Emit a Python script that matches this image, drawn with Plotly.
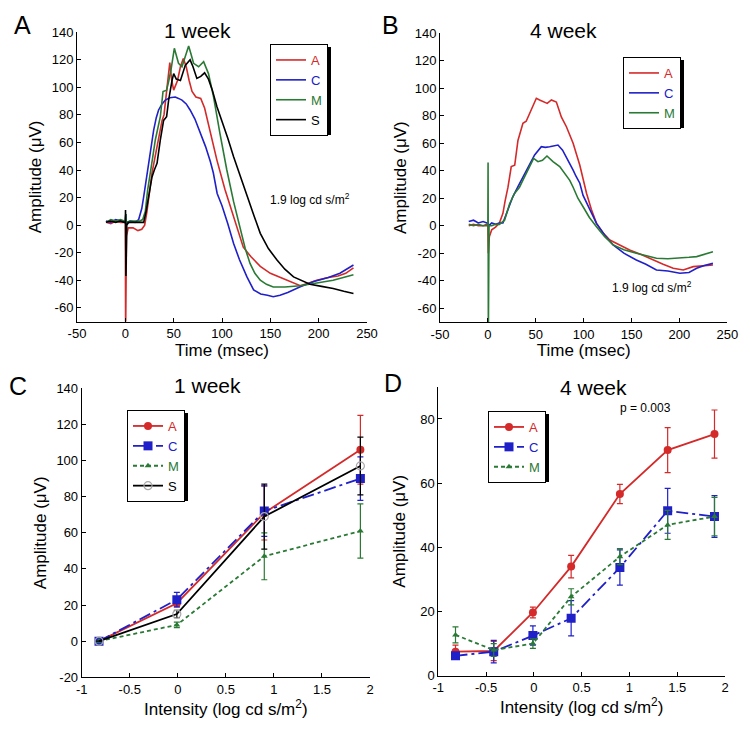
import plotly.graph_objects as go

RED = "#d42a2a"
BLUE = "#2020c8"
GREEN = "#2a7a35"
BLACK = "#000000"
GRAY = "#a8a8a8"

# ---------------- Panel A (1 week waveforms) ----------------
a1_red_t = [-20, -15, -10, -5, -1, 0, 0.3, 1.2, 3, 8, 13, 17, 20, 22.4, 27.6, 32.8, 38, 40, 43, 46, 48, 50, 54, 57,
            60, 63, 66, 69, 73, 78, 82, 87, 94.8, 103, 112, 122, 130, 139.6, 150, 160, 167, 175, 181, 190, 198, 210,
            220, 228, 236]
a1_red_v = [2, 1, 3, 2, 2, 2, -80, -8, -2, -2, -4, -3, 0, 10, 38, 57, 76, 80, 100, 118, 105, 98, 105, 115,
            121, 115, 105, 97, 93, 92, 85, 70, 47, 26, 6, -16, -23, -30, -35, -38, -40, -42, -44, -42, -40, -38,
            -37, -35, -31]

a1_blue_t = [-20, -15, -10, -5, -1, 0, 0.5, 1, 5, 10, 13.8, 17, 19, 21.5, 24, 26.5, 29.3, 32, 34.4, 38, 41.4, 46,
             51.7, 55, 58.6, 63, 67, 72, 77.6, 83, 88, 91, 95, 100, 106, 112, 118, 125.8, 132.7, 140, 147, 153, 160,
             168, 181, 195, 210, 222, 236]
a1_blue_v = [3, 2, 4, 3, 2, 2, 8, 0, 3, 2, 4, 12, 20.6, 33, 44.8, 58, 69, 78, 83.6, 88, 90.8, 92.5,
             93, 92, 90.8, 88, 83.6, 77, 67, 57, 46, 38, 23, 14, 1, -13.3, -25, -37.6, -47, -50, -51, -52, -51,
             -49, -44.8, -41, -38, -35, -29]

a1_green_t = [-20, -15, -10, -5, -1, 0, 0.5, 1, 5, 10, 15, 18, 20.7, 23, 25.9, 28.5, 31, 33.5, 36.2, 39, 42.7, 45,
              47.2, 50.7, 53, 55, 58.6, 62, 65.5, 68, 70.6, 75.8, 81, 86, 91.3, 98, 105, 112, 119, 124, 129, 134,
              139.6, 146, 153, 165, 181, 200, 215, 236]
a1_green_v = [2, 4, 3, 4, 3, 3, 8, 2, 3, 3, 3, 4, 10, 25, 40, 50, 61.8, 70, 78.7, 97, 98, 105,
              112.6, 128.4, 122, 117.5, 115, 122, 130, 124, 117.5, 115, 118.7, 110, 93, 66, 40, 17, -3.6, -17, -27.8,
              -35, -40, -43, -45, -45, -44, -42, -40, -36]

a1_black_t = [-20, -15, -10, -5, -1, 0, 0.2, 0.6, 1.5, 3, 8, 14, 19, 21.5, 24, 27.6, 30, 32.8, 36.2, 39.6, 42.7,
              44.8, 48.3, 50, 52.7, 57, 62, 67, 70, 74, 78, 82, 86, 90, 94.8, 100, 106, 112, 119, 125.8, 133,
              139.6, 148, 156.9, 165, 174, 182, 191, 203, 215, 226, 236]
a1_black_v = [2, 3, 2, 3, 2, 2, 11, -37, 0, 2, 2, 2, 2, 10, 20.6, 35, 40, 44.8, 61.8, 76, 78.7,
              90.8, 105, 110, 106, 105, 116, 120, 115, 106.5, 108, 110.6, 106, 98, 86, 76, 63, 49.6, 35, 20.6, 7,
              -6, -17, -25.4, -32, -37.6, -40, -43, -44.5, -46, -48, -49.6]

# ---------------- Panel B (4 week waveforms) ----------------
b4_red_t = [-20, -15, -10, -5, -1, 0, 0.5, 1.5, 4, 8, 12, 15.7, 18, 21, 24.4, 28, 31.4, 36.6, 40, 45.4, 50.6, 54,
            59.3, 62, 66.3, 71.5, 76.8, 82, 89, 96, 103, 108, 113.4, 120, 127.3, 138, 148, 160, 172.6, 183, 193.5,
            204, 214.4, 225, 235]
b4_red_v = [0, 1, 0, 0, 1, 0, -20, -8, -3, -1, 2, 9, 18, 28, 43, 44, 62, 74.5, 76, 84, 92.7, 91.5,
            90, 89, 91.5, 90, 79, 72, 60, 44, 23.6, 12, 1.7, -5, -10.4, -14, -17.7, -21, -25, -28, -31,
            -32.2, -29.8, -29, -28.6]

b4_blue_t = [-20, -15, -10, -5, -1, 0, 1, 4, 8, 12, 15.7, 21, 26, 31.4, 38.4, 43.6, 48.8, 55.8, 60, 64.5, 69, 73.2,
             78, 82, 85.5, 89, 92, 96, 99.4, 106, 113.4, 122, 130.8, 142, 155, 165, 176, 188, 200.5, 210, 218, 226,
             235]
b4_blue_v = [3, 4, 2, 3, 2, 2, 0, 2, 1, 2, 2, 11.4, 21, 28.4, 38, 45.4, 51.5, 57.5, 57, 57.5, 58, 58.7,
             55, 50, 45, 40.5, 36, 30.9, 22, 12, 1.7, -7, -14, -20, -25, -28, -32.2, -33, -34.6, -34, -31, -29,
             -27.4]

b4_green_t = [-20, -15, -10, -5, -1, 0, 0.2, 0.5, 1.2, 4, 8, 12, 17.4, 22.7, 28, 33, 38.4, 43.6, 47.8, 52.3, 57,
              61.7, 68, 75, 82, 85.5, 89, 94, 99.4, 106, 113.4, 122, 130.8, 142, 155, 165, 176, 188, 200.5, 210,
              218, 226, 235]
b4_green_v = [1, 0, 1, 0, 0, 0, 46, -80, 0, 0, 1, 1, 4, 16, 23.6, 28, 35.7, 43, 49, 46.6, 47.6,
              50.7, 46.6, 43, 35.7, 33, 28, 20, 13.8, 6, -0.7, -8, -14, -17.5, -20, -22, -23.7, -24, -23.7, -23,
              -22.5, -21, -19]

# ---------------- Panel C (1 week intensity-response) ----------------
c_int = [-0.82, -0.01, 0.9, 1.9]
c_A = [0, 21, 71, 106]
c_A_err = [0, 2, 15, 19]
c_C = [0, 23, 72, 90]
c_C_err = [0, 4, 14, 12]
c_M = [0, 9, 47, 61]
c_M_err = [0, 1.5, 13, 15]
c_S = [0, 15, 69, 97]
c_S_err = [0, 2, 18, 16]

# ---------------- Panel D (4 week intensity-response) ----------------
d_int = [-0.82, -0.42, -0.01, 0.39, 0.9, 1.4, 1.89]
d_A = [7.5, 7.7, 19.7, 34, 56.6, 70.3, 75.3]
d_A_err = [2, 3, 1.7, 3.5, 3, 7, 7.5]
d_C = [6.2, 7.5, 12.5, 17.9, 33.7, 51.4, 49.6]
d_C_err = [1, 3.5, 3, 5.5, 5.5, 7, 6.5]
d_M = [12.7, 8, 10, 24.6, 37.1, 47, 49.6]
d_M_err = [2.5, 2, 1.5, 2.5, 2.5, 4.5, 6]

# tick labels (MATLAB style, plain hyphen minus)
time_ticks = [-50, 0, 50, 100, 150, 200, 250]
amp_ticks = [-60, -40, -20, 0, 20, 40, 60, 80, 100, 120, 140]
ampc_ticks = [-20, 0, 20, 40, 60, 80, 100, 120, 140]
ampd_ticks = [0, 20, 40, 60, 80]
int_ticks = [-1, -0.5, 0, 0.5, 1, 1.5, 2]
int_text = ["-1", "-0.5", "0", "0.5", "1", "1.5", "2"]

FONT = "Liberation Sans, Arial, sans-serif"

# The page body has an 8px margin, so the figure is drawn 8px in from the window's edge.
OFF = 8
W, H = 750 - OFF, 733 - OFF


def px(x):
    return (x - OFF) / W


def py(y):
    return 1 - (y - OFF) / H


def lname(txt, col):
    return f"<span style='color:{col}'>{txt}</span>"


def labels(vals):
    return [str(v) for v in vals]


fig = go.Figure()

for t, v, col, nm in [(a1_red_t, a1_red_v, RED, "A"), (a1_blue_t, a1_blue_v, BLUE, "C"),
                      (a1_green_t, a1_green_v, GREEN, "M"), (a1_black_t, a1_black_v, BLACK, "S")]:
    fig.add_trace(go.Scatter(x=t, y=v, mode="lines", line=dict(color=col, width=1.6),
                             name=lname(nm, col), xaxis="x", yaxis="y", legend="legend"))

for t, v, col, nm in [(b4_red_t, b4_red_v, RED, "A"), (b4_blue_t, b4_blue_v, BLUE, "C"),
                      (b4_green_t, b4_green_v, GREEN, "M")]:
    fig.add_trace(go.Scatter(x=t, y=v, mode="lines", line=dict(color=col, width=1.6),
                             name=lname(nm, col), xaxis="x2", yaxis="y2", legend="legend2"))

c_specs = [
    (c_A, c_A_err, RED, "A", "solid", dict(symbol="circle", size=8, color=RED)),
    (c_C, c_C_err, BLUE, "C", "12px,4px,3px,4px", dict(symbol="square", size=9, color=BLUE)),
    (c_M, c_M_err, GREEN, "M", "4px,3px", dict(symbol="triangle-up", size=6, color=GREEN)),
    (c_S, c_S_err, BLACK, "S", "solid", dict(symbol="circle-open", size=8, color=GRAY, line=dict(width=1.2))),
]
for vals, errs, col, nm, dash, mk in c_specs:
    fig.add_trace(go.Scatter(x=c_int, y=vals, mode="lines+markers",
                             line=dict(color=col, width=1.8, dash=dash), marker=mk,
                             error_y=dict(type="data", array=errs, visible=True, color=col, thickness=1.2, width=3),
                             name=lname(nm, col), xaxis="x3", yaxis="y3", legend="legend3"))

d_specs = [
    (d_A, d_A_err, RED, "A", "solid", dict(symbol="circle", size=8, color=RED)),
    (d_C, d_C_err, BLUE, "C", "12px,4px,3px,4px", dict(symbol="square", size=9, color=BLUE)),
    (d_M, d_M_err, GREEN, "M", "4px,3px", dict(symbol="triangle-up", size=6, color=GREEN)),
]
for vals, errs, col, nm, dash, mk in d_specs:
    fig.add_trace(go.Scatter(x=d_int, y=vals, mode="lines+markers",
                             line=dict(color=col, width=1.8, dash=dash), marker=mk,
                             error_y=dict(type="data", array=errs, visible=True, color=col, thickness=1.2, width=3),
                             name=lname(nm, col), xaxis="x4", yaxis="y4", legend="legend4"))

axis_common = dict(showline=True, linecolor="black", linewidth=1, ticks="inside", ticklen=4, tickcolor="black",
                   showgrid=False, zeroline=False, mirror=False, automargin=False,
                   tickfont=dict(family=FONT, size=13, color="black"))
title_font = dict(family=FONT, size=17, color="black")
amp = "Amplitude (\u03bcV)"
inten = "Intensity (log cd s/m<sup>2</sup>)"

fig.update_layout(
    width=W, height=H, margin=dict(l=0, r=0, t=0, b=0),
    paper_bgcolor="white", plot_bgcolor="white",
    font=dict(family=FONT, color="black"),
    xaxis=dict(domain=[px(77), px(367)], range=[-50, 250], tickvals=time_ticks, ticktext=labels(time_ticks),
               title=dict(text="Time (msec)", font=title_font, standoff=2), anchor="y", **axis_common),
    yaxis=dict(domain=[py(321.5), py(32.3)], range=[-70, 140], tickvals=amp_ticks, ticktext=labels(amp_ticks),
               title=dict(text=amp, font=title_font, standoff=5), anchor="x", **axis_common),
    xaxis2=dict(domain=[px(440), px(727.3)], range=[-50, 250], tickvals=time_ticks, ticktext=labels(time_ticks),
                title=dict(text="Time (msec)", font=title_font, standoff=2), anchor="y2", **axis_common),
    yaxis2=dict(domain=[py(321.9), py(33.3)], range=[-70, 140], tickvals=amp_ticks, ticktext=labels(amp_ticks),
                title=dict(text=amp, font=title_font, standoff=3), anchor="x2", **axis_common),
    xaxis3=dict(domain=[px(81.7), px(370)], range=[-1, 2], tickvals=int_ticks, ticktext=int_text,
                title=dict(text=inten, font=title_font, standoff=4), anchor="y3", **axis_common),
    yaxis3=dict(domain=[py(677.3), py(388.3)], range=[-20, 140], tickvals=ampc_ticks, ticktext=labels(ampc_ticks),
                title=dict(text=amp, font=title_font, standoff=5), anchor="x3", **axis_common),
    xaxis4=dict(domain=[px(438.3), px(725)], range=[-1, 2], tickvals=int_ticks, ticktext=int_text,
                title=dict(text=inten, font=title_font, standoff=4), anchor="y4", **axis_common),
    yaxis4=dict(domain=[py(675.7), py(386.9)], range=[0, 90], tickvals=ampd_ticks, ticktext=labels(ampd_ticks),
                title=dict(text=amp, font=title_font, standoff=10), anchor="x4", **axis_common),
)

leg_common = dict(xanchor="left", yanchor="top", bordercolor="black", borderwidth=1, bgcolor="white",
                  font=dict(family=FONT, size=13), itemwidth=30, tracegroupgap=0)
# legend boxes: (left, top, width, height) in window pixels
leg_boxes = {"legend": (270, 44, 58, 88), "legend2": (623, 57, 58, 68),
             "legend3": (127, 410, 58, 88), "legend4": (488, 411, 58, 68)}
fig.update_layout(**{k: dict(x=px(l), y=py(t), **leg_common) for k, (l, t, w, h) in leg_boxes.items()})

# MATLAB-style drop shadows behind the legend boxes
shapes = []
for l, t, w, h in leg_boxes.values():
    shapes.append(dict(type="rect", xref="paper", yref="paper", layer="above",
                       x0=px(l + 3), x1=px(l + w + 3), y0=py(t + h + 3), y1=py(t + 3),
                       fillcolor="black", line=dict(width=0)))
fig.update_layout(shapes=shapes)

ann = []


def add_text(x, y, text, size, xanchor="center"):
    ann.append(dict(x=px(x), y=py(y), xref="paper", yref="paper", text=text, showarrow=False,
                    font=dict(family=FONT, size=size, color="black"), xanchor=xanchor, yanchor="middle"))


add_text(22, 25, "A", 25)
add_text(391, 25, "B", 25)
add_text(18, 386, "C", 25)
add_text(393, 383, "D", 25)
add_text(197, 31, "1 week", 21)
add_text(563, 30, "4 week", 21)
add_text(208, 385, "1 week", 21)
add_text(593, 387, "4 week", 21)
add_text(310, 199, "1.9 log cd s/m<sup>2</sup>", 12)
add_text(652, 287, "1.9 log cd s/m<sup>2</sup>", 12)
add_text(645, 408, "p = 0.003", 12)
fig.update_layout(annotations=ann)

fig.write_html("out.html")
